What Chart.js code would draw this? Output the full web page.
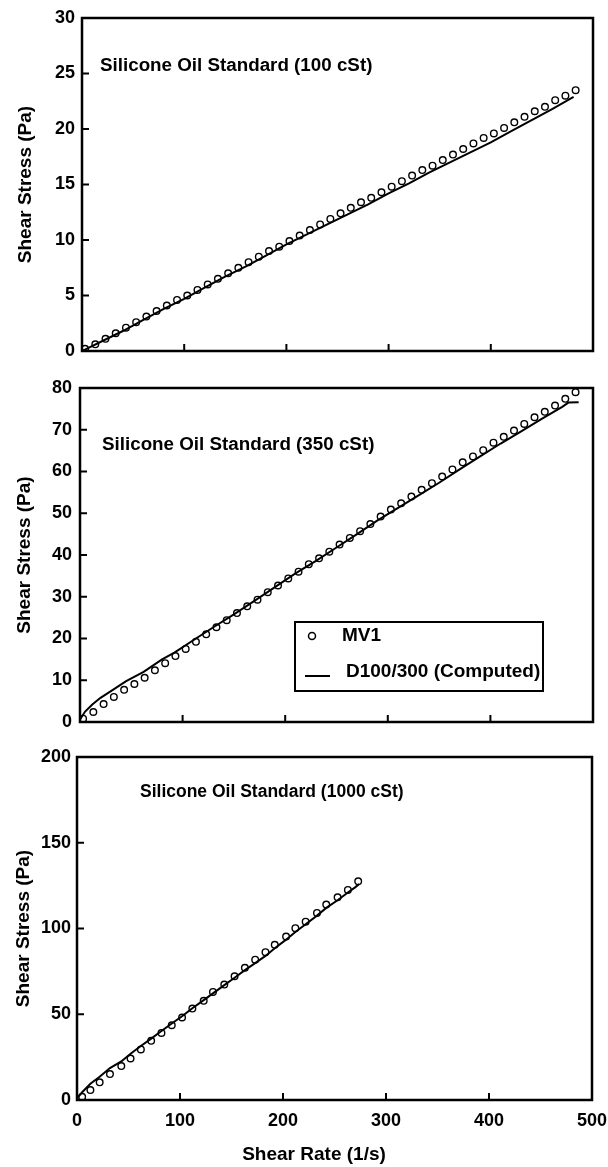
<!DOCTYPE html>
<html>
<head>
<meta charset="utf-8">
<script src="https://cdn.jsdelivr.net/npm/chart.js@4.4.1/dist/chart.umd.min.js"></script>
<style>
html, body { margin: 0; padding: 0; background: #fff; }
#page { position: relative; width: 608px; height: 1167px; overflow: hidden; }
canvas { position: absolute; left: 0; }
</style>
</head>
<body>
<div id="page">
  <canvas id="panel100" width="608" height="370" style="top:0px"></canvas>
  <canvas id="panel350" width="608" height="372" style="top:370px"></canvas>
  <canvas id="panel1000" width="608" height="425" style="top:742px"></canvas>
</div>
<script>
// series names and axis text
const seriesLabels = ['MV1', 'D100/300 (Computed)'];
const panelTitles = ['Silicone Oil Standard (100 cSt)', 'Silicone Oil Standard (350 cSt)', 'Silicone Oil Standard (1000 cSt)'];
const xTitle = 'Shear Rate (1/s)';
const yTitle = 'Shear Stress (Pa)';

// 100 cSt - measured (circles)
const rate100 = [3, 13, 23, 33, 43, 53, 63, 73, 83, 93, 103, 113, 123, 133, 143, 153, 163, 173, 183, 193,
  203, 213, 223, 233, 243, 253, 263, 273, 283, 293, 303, 313, 323, 333, 343, 353, 363, 373, 383, 393,
  403, 413, 423, 433, 443, 453, 463, 473, 483];
const stress100 = [0.2, 0.6, 1.1, 1.6, 2.1, 2.6, 3.1, 3.6, 4.1, 4.6, 5.0, 5.5, 6.0, 6.5, 7.0, 7.5, 8.0, 8.5, 9.0, 9.4,
  9.9, 10.4, 10.9, 11.4, 11.9, 12.4, 12.9, 13.4, 13.8, 14.3, 14.8, 15.3, 15.8, 16.3, 16.7, 17.2, 17.7, 18.2, 18.7, 19.2,
  19.6, 20.1, 20.6, 21.1, 21.6, 22.0, 22.6, 23.0, 23.5];
// 100 cSt - computed (line)
const lineRate100 = [0, 20, 40, 60, 80, 100, 120, 140, 160, 180, 200, 220, 240, 260, 280, 300, 320, 340, 360, 380, 400, 420, 440, 460, 481];
const lineStress100 = [0, 0.9, 1.8, 2.8, 3.8, 4.7, 5.7, 6.7, 7.6, 8.6, 9.6, 10.5, 11.4, 12.3, 13.2, 14.2, 15.1, 16.1, 17.0, 17.9, 18.8, 19.8, 20.8, 21.8, 22.9];

// 350 cSt
const rate350 = [3, 13, 23, 33, 43, 53, 63, 73, 83, 93, 103, 113, 123, 133, 143, 153, 163, 173, 183, 193,
  203, 213, 223, 233, 243, 253, 263, 273, 283, 293, 303, 313, 323, 333, 343, 353, 363, 373, 383, 393,
  403, 413, 423, 433, 443, 453, 463, 473, 483];
const stress350 = [0.8, 2.4, 4.3, 6.0, 7.7, 9.1, 10.6, 12.4, 14.1, 15.8, 17.5, 19.2, 21.0, 22.7, 24.4, 26.1, 27.7, 29.3, 31.1, 32.7,
  34.4, 36.0, 37.8, 39.2, 40.8, 42.5, 44.1, 45.7, 47.4, 49.2, 50.9, 52.4, 54.0, 55.6, 57.2, 58.8, 60.5, 62.2, 63.6, 65.1,
  66.9, 68.3, 69.8, 71.4, 73.0, 74.3, 75.8, 77.4, 79.0];
const lineRate350 = [0, 5, 12, 20, 32, 45, 62, 80, 92, 113, 130, 150, 170, 190, 210, 230, 250, 270, 290, 310, 330, 350, 370, 390, 410, 430, 450, 470, 476, 486];
const lineStress350 = [0.6, 2.5, 4.2, 5.8, 7.7, 9.8, 12.0, 15.0, 16.6, 20.0, 22.7, 25.8, 29.0, 32.3, 35.6, 38.6, 41.8, 45.0, 48.3, 51.3, 54.3, 57.3, 60.5, 63.6, 66.7, 69.6, 72.6, 75.5, 76.5, 76.6];

// 1000 cSt
const rate1000 = [5, 13, 22, 32, 43, 52, 62, 72, 82, 92, 102, 112, 123, 132, 143, 153, 163, 173, 183, 192, 203, 212, 222, 233, 242, 253, 263, 273];
const stress1000 = [1.9, 5.8, 10.3, 15.1, 19.8, 24.2, 29.5, 34.5, 39.1, 43.6, 48.1, 53.3, 57.8, 63.0, 67.3, 72.1, 77.1, 81.8, 86.2, 90.5, 95.3, 100.2, 104.0, 109.1, 114.0, 118.2, 122.5, 127.5];
const lineRate1000 = [0, 5, 13, 22, 32, 43, 52, 62, 72, 82, 92, 102, 112, 123, 133, 143, 153, 163, 173, 183, 192, 203, 212, 222, 233, 242, 253, 263, 270, 274];
const lineStress1000 = [1, 4.5, 9.5, 13.6, 18.6, 22.5, 27.0, 31.5, 35.8, 40.2, 44.6, 48.8, 53.5, 58.2, 62.6, 67.0, 71.3, 75.7, 79.8, 84.0, 88.5, 93.5, 98.0, 102.5, 107.5, 112.0, 116.5, 121.0, 124.0, 126.0];

const FONT = "'Liberation Sans', Arial, Helvetica, sans-serif";

function pairs(xs, ys) {
  return xs.map((v, i) => ({x: v, y: ys[i]}));
}

// box frame + inward tick marks
const frameTicks = {
  id: 'frameTicks',
  afterDraw(chart) {
    const {ctx, chartArea: a} = chart;
    const xs = chart.scales.x, ys = chart.scales.y;
    ctx.save();
    ctx.strokeStyle = '#000';
    ctx.lineWidth = 2;
    ctx.beginPath();
    xs.ticks.forEach(t => {
      if (t.value <= xs.min || t.value >= xs.max) return;
      const px = xs.getPixelForValue(t.value);
      ctx.moveTo(px, a.bottom);
      ctx.lineTo(px, a.bottom - 7);
    });
    ys.ticks.forEach(t => {
      if (t.value <= ys.min || t.value >= ys.max) return;
      const py = ys.getPixelForValue(t.value);
      ctx.moveTo(a.left, py);
      ctx.lineTo(a.left + 7, py);
    });
    ctx.stroke();
    ctx.lineWidth = 2.5;
    ctx.strokeRect(a.left, a.top, a.right - a.left, a.bottom - a.top);
    ctx.restore();
  }
};

// panel caption inside the plot, and the x axis name (set off-centre as in the original)
const panelTitle = {
  id: 'panelTitle',
  afterDraw(chart, args, opts) {
    const ctx = chart.ctx;
    ctx.save();
    ctx.fillStyle = '#000';
    ctx.font = 'bold ' + opts.size + 'px ' + FONT;
    ctx.textBaseline = 'middle';
    ctx.fillText(opts.text, opts.x, opts.y);
    if (opts.xLabel) {
      ctx.font = 'bold 19px ' + FONT;
      ctx.textAlign = 'center';
      ctx.fillText(opts.xLabel, opts.xLabelX, opts.xLabelY);
    }
    ctx.restore();
  }
};

// boxed legend (only middle panel)
const boxLegend = {
  id: 'boxLegend',
  afterDraw(chart, args, opts) {
    if (!opts.show) return;
    const ctx = chart.ctx;
    const ds = chart.data.datasets;
    ctx.save();
    ctx.strokeStyle = '#000';
    ctx.lineWidth = 2;
    ctx.fillStyle = '#fff';
    ctx.fillRect(opts.left, opts.top, opts.width, opts.height);
    ctx.strokeRect(opts.left, opts.top, opts.width, opts.height);
    ctx.fillStyle = '#000';
    ctx.font = 'bold 19px ' + FONT;
    ctx.textBaseline = 'middle';
    // row 1 : circle marker
    ctx.lineWidth = 1.5;
    ctx.beginPath();
    ctx.arc(opts.left + 17, opts.top + 14, 3.5, 0, Math.PI * 2);
    ctx.stroke();
    ctx.fillText(ds[0].label, opts.left + 47, opts.top + 14);
    // row 2 : line
    ctx.lineWidth = 2;
    ctx.beginPath();
    ctx.moveTo(opts.left + 10, opts.top + 54);
    ctx.lineTo(opts.left + 35, opts.top + 54);
    ctx.stroke();
    ctx.fillText(ds[1].label, opts.left + 51, opts.top + 50);
    ctx.restore();
  }
};

function makePanel(id, cfg) {
  return new Chart(document.getElementById(id), {
    type: 'scatter',
    data: {
      datasets: [{
        label: seriesLabels[0],
        data: pairs(cfg.rate, cfg.stress),
        showLine: false,
        pointStyle: 'circle',
        pointRadius: 3.3,
        pointBorderWidth: 1.4,
        pointBorderColor: '#000',
        pointBackgroundColor: 'rgba(255,255,255,0)'
      }, {
        label: seriesLabels[1],
        data: pairs(cfg.lineRate, cfg.lineStress),
        showLine: true,
        borderColor: '#000',
        borderWidth: 2,
        pointRadius: 0,
        tension: 0
      }]
    },
    options: {
      responsive: false,
      animation: false,
      layout: {padding: {top: cfg.padTop, right: cfg.padRight, bottom: 0, left: 0}},
      plugins: {
        legend: {display: false},
        tooltip: {enabled: false},
        panelTitle: {
          text: cfg.title, x: cfg.titleX, y: cfg.titleY, size: cfg.titleSize,
          xLabel: cfg.showX ? xTitle : null, xLabelX: 314, xLabelY: 413
        },
        boxLegend: cfg.legend || {show: false}
      },
      scales: {
        x: {
          type: 'linear',
          min: 0, max: 500,
          grid: {display: false, drawTicks: false},
          border: {display: false},
          ticks: {
            display: cfg.showX,
            stepSize: 100,
            padding: 10,
            color: '#000',
            font: {family: FONT, size: 18, weight: 'bold'}
          },
          title: {display: false},
          afterFit(s) { s.height = cfg.xHeight; s.paddingLeft = 0; s.paddingRight = 0; }
        },
        y: {
          min: 0, max: cfg.yMax,
          grid: {display: false, drawTicks: false},
          border: {display: false},
          ticks: {
            stepSize: cfg.yStep,
            padding: cfg.tickPad,
            color: '#000',
            font: {family: FONT, size: 18, weight: 'bold'}
          },
          title: {
            display: true,
            text: yTitle,
            color: '#000',
            padding: {top: cfg.yTitlePad, bottom: 0},
            font: {family: FONT, size: 19, weight: 'bold'}
          },
          afterFit(s) { s.width = cfg.yWidth; s.paddingTop = 0; s.paddingBottom = 0; }
        }
      }
    },
    plugins: [frameTicks, panelTitle, boxLegend]
  });
}

makePanel('panel100', {
  rate: rate100, stress: stress100, lineRate: lineRate100, lineStress: lineStress100,
  yMax: 30, yStep: 5, padTop: 18, padRight: 15, xHeight: 19, yWidth: 82, tickPad: 7, yTitlePad: 14,
  showX: false, title: panelTitles[0], titleX: 100, titleY: 66, titleSize: 18.8
});

makePanel('panel350', {
  rate: rate350, stress: stress350, lineRate: lineRate350, lineStress: lineStress350,
  yMax: 80, yStep: 10, padTop: 18, padRight: 15, xHeight: 20, yWidth: 80, tickPad: 8, yTitlePad: 13,
  showX: false, title: panelTitles[1], titleX: 102, titleY: 75, titleSize: 18.8,
  legend: {show: true, left: 295, top: 252, width: 248, height: 69}
});

makePanel('panel1000', {
  rate: rate1000, stress: stress1000, lineRate: lineRate1000, lineStress: lineStress1000,
  yMax: 200, yStep: 50, padTop: 15, padRight: 16, xHeight: 67, yWidth: 77, tickPad: 6, yTitlePad: 12,
  showX: true, title: panelTitles[2], titleX: 140, titleY: 50, titleSize: 17.5
});
</script>
</body>
</html>
